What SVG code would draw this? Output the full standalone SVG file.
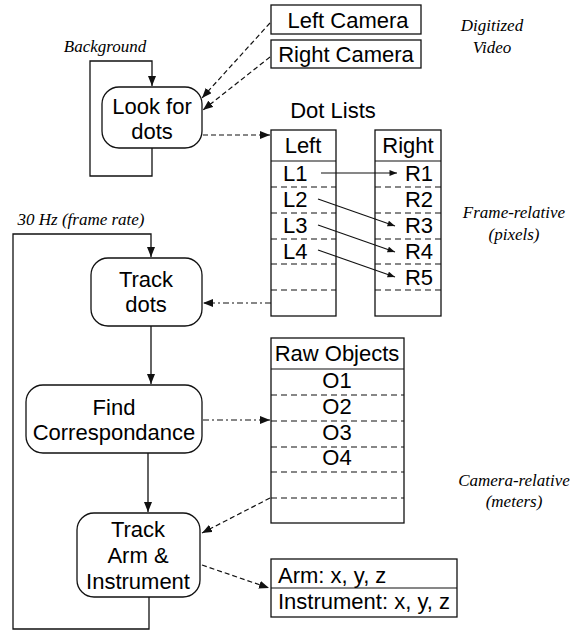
<svg xmlns="http://www.w3.org/2000/svg" width="583" height="630" viewBox="0 0 583 630">
  <style>
    .box { fill: #fff; stroke: #111; stroke-width: 1.3; }
    .sep { stroke: #111; stroke-width: 1.2; fill: none; }
    .dsep { stroke: #111; stroke-width: 1.2; stroke-dasharray: 6,4; fill: none; }
    .t { font-family: "Liberation Sans", Arial, sans-serif; font-size: 22px; fill: #000; }
    .it { font-family: "Liberation Serif", "Times New Roman", serif; font-style: italic; font-size: 17px; fill: #000; }
    .flow { stroke: #111; stroke-width: 1.3; fill: none; }
    .dash { stroke: #111; stroke-width: 1.2; fill: none; stroke-dasharray: 5,3; }
    .dashdot { stroke: #111; stroke-width: 1.2; fill: none; stroke-dasharray: 6,3,2,3; }
    .ptr { stroke: #111; stroke-width: 1.1; fill: none; }
  </style>
  <defs>
    <marker id="ah" viewBox="0 0 10 8" refX="10" refY="4" markerWidth="10" markerHeight="8" markerUnits="userSpaceOnUse" orient="auto">
      <path d="M0,0 L10,4 L0,8 z" fill="#111"/>
    </marker>
    <marker id="ahs" viewBox="0 0 10 8" refX="10" refY="4" markerWidth="8" markerHeight="6" markerUnits="userSpaceOnUse" orient="auto">
      <path d="M0,0 L10,4 L0,8 z" fill="#111"/>
    </marker>
  </defs>

  <!-- side annotations -->
  <g id="labels">
    <text class="it" x="105" y="52" text-anchor="middle">Background</text>
    <text class="it" x="81" y="225" text-anchor="middle">30 Hz (frame rate)</text>
    <text class="it" x="492" y="31" text-anchor="middle">Digitized</text>
    <text class="it" x="492" y="53" text-anchor="middle">Video</text>
    <text class="it" x="514" y="218" text-anchor="middle">Frame-relative</text>
    <text class="it" x="514" y="240" text-anchor="middle">(pixels)</text>
    <text class="it" x="514" y="486" text-anchor="middle">Camera-relative</text>
    <text class="it" x="514" y="507" text-anchor="middle">(meters)</text>
  </g>

  <!-- camera sources -->
  <g id="left-camera">
    <rect class="box" x="271" y="5" width="150" height="29"/>
    <text class="t" x="348" y="28" text-anchor="middle">Left Camera</text>
  </g>
  <g id="right-camera">
    <rect class="box" x="271" y="40" width="150" height="28"/>
    <text class="t" x="346" y="62" text-anchor="middle">Right Camera</text>
  </g>

  <!-- processes -->
  <g id="look-for-dots">
    <rect class="box" x="102" y="87" width="100" height="61" rx="17"/>
    <text class="t" x="152" y="114" text-anchor="middle">Look for</text>
    <text class="t" x="152" y="139" text-anchor="middle">dots</text>
  </g>
  <g id="track-dots">
    <rect class="box" x="91" y="258" width="111" height="68" rx="17"/>
    <text class="t" x="146" y="287" text-anchor="middle">Track</text>
    <text class="t" x="146" y="312" text-anchor="middle">dots</text>
  </g>
  <g id="find-correspondance">
    <rect class="box" x="26" y="385" width="176" height="68" rx="17"/>
    <text class="t" x="114" y="415" text-anchor="middle">Find</text>
    <text class="t" x="114" y="440" text-anchor="middle">Correspondance</text>
  </g>
  <g id="track-arm">
    <rect class="box" x="77" y="513" width="123" height="84" rx="17"/>
    <text class="t" x="138" y="537" text-anchor="middle">Track</text>
    <text class="t" x="138" y="563" text-anchor="middle">Arm &amp;</text>
    <text class="t" x="138" y="589" text-anchor="middle">Instrument</text>
  </g>

  <!-- dot lists -->
  <g id="dot-lists">
    <text class="t" x="333" y="118" text-anchor="middle">Dot Lists</text>
  </g>
  <g id="left-list">
    <rect class="box" x="271" y="130" width="65" height="186"/>
    <line class="sep" x1="271" y1="161" x2="336" y2="161"/>
    <line class="dsep" x1="271" y1="187" x2="336" y2="187"/>
    <line class="dsep" x1="271" y1="213" x2="336" y2="213"/>
    <line class="dsep" x1="271" y1="239" x2="336" y2="239"/>
    <line class="dsep" x1="271" y1="264" x2="336" y2="264"/>
    <line class="dsep" x1="271" y1="290" x2="336" y2="290"/>
    <text class="t" x="303" y="153" text-anchor="middle">Left</text>
    <text class="t" x="283" y="181">L1</text>
    <text class="t" x="283" y="207">L2</text>
    <text class="t" x="283" y="233">L3</text>
    <text class="t" x="283" y="259">L4</text>
  </g>
  <g id="right-list">
    <rect class="box" x="375" y="130" width="66" height="186"/>
    <line class="sep" x1="375" y1="161" x2="441" y2="161"/>
    <line class="dsep" x1="375" y1="187" x2="441" y2="187"/>
    <line class="dsep" x1="375" y1="213" x2="441" y2="213"/>
    <line class="dsep" x1="375" y1="239" x2="441" y2="239"/>
    <line class="dsep" x1="375" y1="264" x2="441" y2="264"/>
    <line class="dsep" x1="375" y1="290" x2="441" y2="290"/>
    <text class="t" x="408" y="153" text-anchor="middle">Right</text>
    <text class="t" x="433" y="181" text-anchor="end">R1</text>
    <text class="t" x="433" y="207" text-anchor="end">R2</text>
    <text class="t" x="433" y="233" text-anchor="end">R3</text>
    <text class="t" x="433" y="259" text-anchor="end">R4</text>
    <text class="t" x="433" y="285" text-anchor="end">R5</text>
  </g>

  <!-- raw objects -->
  <g id="raw-objects">
    <rect class="box" x="271" y="338" width="133" height="185"/>
    <line class="sep" x1="271" y1="369" x2="404" y2="369"/>
    <line class="dsep" x1="271" y1="395" x2="404" y2="395"/>
    <line class="dsep" x1="271" y1="421" x2="404" y2="421"/>
    <line class="dsep" x1="271" y1="447" x2="404" y2="447"/>
    <line class="dsep" x1="271" y1="472" x2="404" y2="472"/>
    <line class="dsep" x1="271" y1="498" x2="404" y2="498"/>
    <text class="t" x="337" y="361" text-anchor="middle">Raw Objects</text>
    <text class="t" x="337" y="388" text-anchor="middle">O1</text>
    <text class="t" x="337" y="414" text-anchor="middle">O2</text>
    <text class="t" x="337" y="440" text-anchor="middle">O3</text>
    <text class="t" x="337" y="465" text-anchor="middle">O4</text>
  </g>

  <!-- arm / instrument positions -->
  <g id="positions">
    <rect class="box" x="271" y="559" width="186" height="58"/>
    <line class="sep" x1="271" y1="588" x2="457" y2="588"/>
    <text class="t" x="278" y="583">Arm: x, y, z</text>
    <text class="t" x="278" y="609">Instrument: x, y, z</text>
  </g>

  <!-- connectors, drawn last so they sit on top of the list cells -->
  <g id="connectors">
    <!-- background loop -->
    <path class="flow" d="M152,148 V176 H90 V61 H152 V86" marker-end="url(#ah)"/>
    <!-- frame-rate loop -->
    <path class="flow" d="M149,597 V629 H13 V234 H151 V257" marker-end="url(#ah)"/>
    <path class="flow" d="M151,326 V384" marker-end="url(#ah)"/>
    <path class="flow" d="M148,453 V512" marker-end="url(#ah)"/>
    <!-- data flows -->
    <path class="dash" d="M270,23 L202,98" marker-end="url(#ah)"/>
    <path class="dash" d="M270,57 L203,110" marker-end="url(#ah)"/>
    <path class="dash" d="M203,135 H270" marker-end="url(#ah)"/>
    <path class="dashdot" d="M271,303 H203" marker-end="url(#ah)"/>
    <path class="dashdot" d="M203,420 H270" marker-end="url(#ah)"/>
    <path class="dash" d="M270,498 L202,533" marker-end="url(#ah)"/>
    <path class="dash" d="M202,565 L269,588" marker-end="url(#ah)"/>
    <!-- dot pairings -->
    <path class="ptr" d="M321,173 H397" marker-end="url(#ahs)"/>
    <path class="ptr" d="M318,199 L395,226" marker-end="url(#ahs)"/>
    <path class="ptr" d="M318,225 L395,252" marker-end="url(#ahs)"/>
    <path class="ptr" d="M318,250 L395,277" marker-end="url(#ahs)"/>
  </g>
</svg>
